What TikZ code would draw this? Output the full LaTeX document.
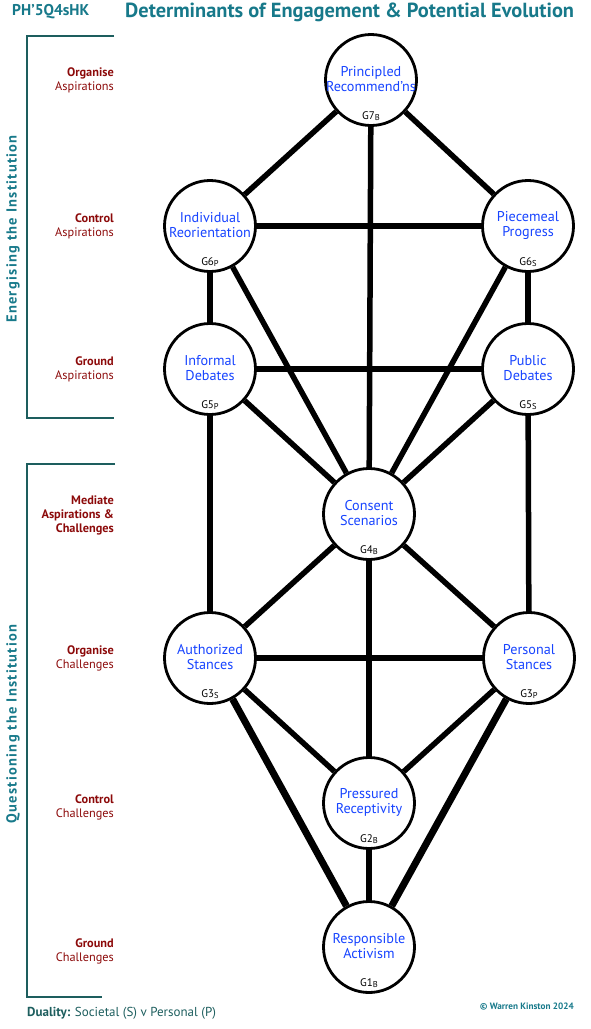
\documentclass[tikz,border=0pt]{standalone}
\usepackage{fontspec}
\setmainfont{PT Sans}
\newfontfamily\spacedfont[LetterSpace=9]{PT Sans}
\usetikzlibrary{shapes}
\definecolor{titleteal}{HTML}{17798A}
\definecolor{bracketteal}{HTML}{1D5E5E}
\definecolor{rowred}{HTML}{8C0A0A}
\definecolor{nodeblue}{HTML}{1744FF}
\newcommand{\gsub}[1]{\raisebox{-1.5pt}{\fontsize{8.5}{9}\selectfont #1}}

\begin{document}
\begin{tikzpicture}[x=1pt,y=-1pt,
  gnode/.style={draw, circle, line width=2.8pt, fill=white, minimum size=91pt, inner sep=0pt},
  gtext/.style={align=center, text=nodeblue, inner sep=0pt, font=\fontsize{14.2}{15}\selectfont},
  gtag/.style={inner sep=0pt, font=\fontsize{11}{12}\selectfont},
  rowlabel/.style={anchor=east, align=right, inner sep=0pt, text=rowred, font=\fontsize{12.3}{14}\selectfont},
  link/.style={line width=5.5pt},
  heavylink/.style={line width=7pt},
  bracket/.style={draw=bracketteal, line width=2.5pt},
  sidetitle/.style={rotate=90, inner sep=0pt, text=titleteal, font=\fontsize{14.5}{16}\spacedfont\bfseries}]
  \useasboundingbox (0,0) rectangle (590,1029);

  \node[anchor=west, inner sep=0pt, text=titleteal, font=\fontsize{15.6}{17}\selectfont\bfseries] (code) at (12,12) {PH'5Q4sHK};
  \node[anchor=west, inner sep=0pt, text=titleteal, font=\fontsize{20.4}{23}\selectfont\bfseries] (title) at (125,12) {Determinants of Engagement \& Potential Evolution};

  \draw[bracket] (114,36) -- (27,36) -- (27,418) -- (114,418);
  \draw[bracket] (115,464) -- (27,464) -- (27,997) -- (102,997);
  \node[sidetitle] (energise) at (13,229) {Energising the Institution};
  \node[sidetitle] (question) at (13,724) {Questioning the Institution};

  \node[rowlabel] (orgasp) at (114,80) {\textbf{Organise}\\Aspirations};
  \node[rowlabel] (conasp) at (114,226) {\textbf{Control}\\Aspirations};
  \node[rowlabel] (gndasp) at (114,369) {\textbf{Ground}\\Aspirations};
  \node[rowlabel] (mediate) at (114,515) {\textbf{Mediate}\\\textbf{Aspirations \&}\\\textbf{Challenges}};
  \node[rowlabel] (orgcha) at (114,658) {\textbf{Organise}\\Challenges};
  \node[rowlabel] (concha) at (114,807) {\textbf{Control}\\Challenges};
  \node[rowlabel] (gndcha) at (114,951) {\textbf{Ground}\\Challenges};

  \node[gnode] (g7) at (371,80) {};
  \node[gnode] (g6p) at (210,226) {};
  \node[gnode] (g6s) at (528,226) {};
  \node[gnode] (g5p) at (210,369) {};
  \node[gnode] (g5s) at (528,369) {};
  \node[gnode] (g4) at (369,514) {};
  \node[gnode] (g3s) at (210,658) {};
  \node[gnode] (g3p) at (529,658) {};
  \node[gnode] (g2) at (369,803) {};
  \node[gnode] (g1) at (369,947) {};

  \node[gtext] (g7t) at ([yshift=1pt]g7.center) {Principled\\Recommend'ns};
  \node[gtext] (g6pt) at ([yshift=1pt]g6p.center) {Individual\\Reorientation};
  \node[gtext] (g6st) at ([yshift=1pt]g6s.center) {Piecemeal\\Progress};
  \node[gtext] (g5pt) at ([yshift=1pt]g5p.center) {Informal\\Debates};
  \node[gtext] (g5st) at ([yshift=1pt]g5s.center) {Public\\Debates};
  \node[gtext] (g4t) at ([yshift=1pt]g4.center) {Consent\\Scenarios};
  \node[gtext] (g3st) at ([yshift=1pt]g3s.center) {Authorized\\Stances};
  \node[gtext] (g3pt) at ([yshift=1pt]g3p.center) {Personal\\Stances};
  \node[gtext] (g2t) at ([yshift=1pt]g2.center) {Pressured\\Receptivity};
  \node[gtext] (g1t) at ([yshift=1pt]g1.center) {Responsible\\Activism};

  \node[gtag] (g7g) at ([yshift=-36pt]g7.center) {G7\gsub{B}};
  \node[gtag] (g6pg) at ([yshift=-36pt]g6p.center) {G6\gsub{P}};
  \node[gtag] (g6sg) at ([yshift=-36pt]g6s.center) {G6\gsub{S}};
  \node[gtag] (g5pg) at ([yshift=-36pt]g5p.center) {G5\gsub{P}};
  \node[gtag] (g5sg) at ([yshift=-36pt]g5s.center) {G5\gsub{S}};
  \node[gtag] (g4g) at ([yshift=-36pt]g4.center) {G4\gsub{B}};
  \node[gtag] (g3sg) at ([yshift=-36pt]g3s.center) {G3\gsub{S}};
  \node[gtag] (g3pg) at ([yshift=-36pt]g3p.center) {G3\gsub{P}};
  \node[gtag] (g2g) at ([yshift=-36pt]g2.center) {G2\gsub{B}};
  \node[gtag] (g1g) at ([yshift=-36pt]g1.center) {G1\gsub{B}};

  \path[link] (g7) edge (g6p) edge (g6s) edge (g4);
  \path[link] (g6p) edge (g6s) edge (g5p) edge (g4);
  \path[link] (g6s) edge (g5s) edge (g4);
  \path[link] (g5p) edge (g5s) edge (g4) edge (g3s);
  \path[link] (g5s) edge (g4) edge (g3p);
  \path[link] (g4) edge (g3s) edge (g3p) edge (g2);
  \path[link] (g3s) edge (g3p) edge (g2);
  \path[link] (g3p) edge (g2);
  \path[link] (g2) edge (g1);
  \path[heavylink] (g3s) edge (g1);
  \path[heavylink] (g3p) edge (g1);

  \node[anchor=west, inner sep=0pt, text=bracketteal, font=\fontsize{13}{15}\selectfont] (duality) at (27,1013) {\textbf{Duality:} Societal (S) v Personal (P)};
  \node[anchor=east, inner sep=0pt, text=titleteal, font=\fontsize{9.2}{11}\selectfont\bfseries] (copyright) at (574,1007) {\textcopyright{} Warren Kinston 2024};
\end{tikzpicture}
\end{document}
